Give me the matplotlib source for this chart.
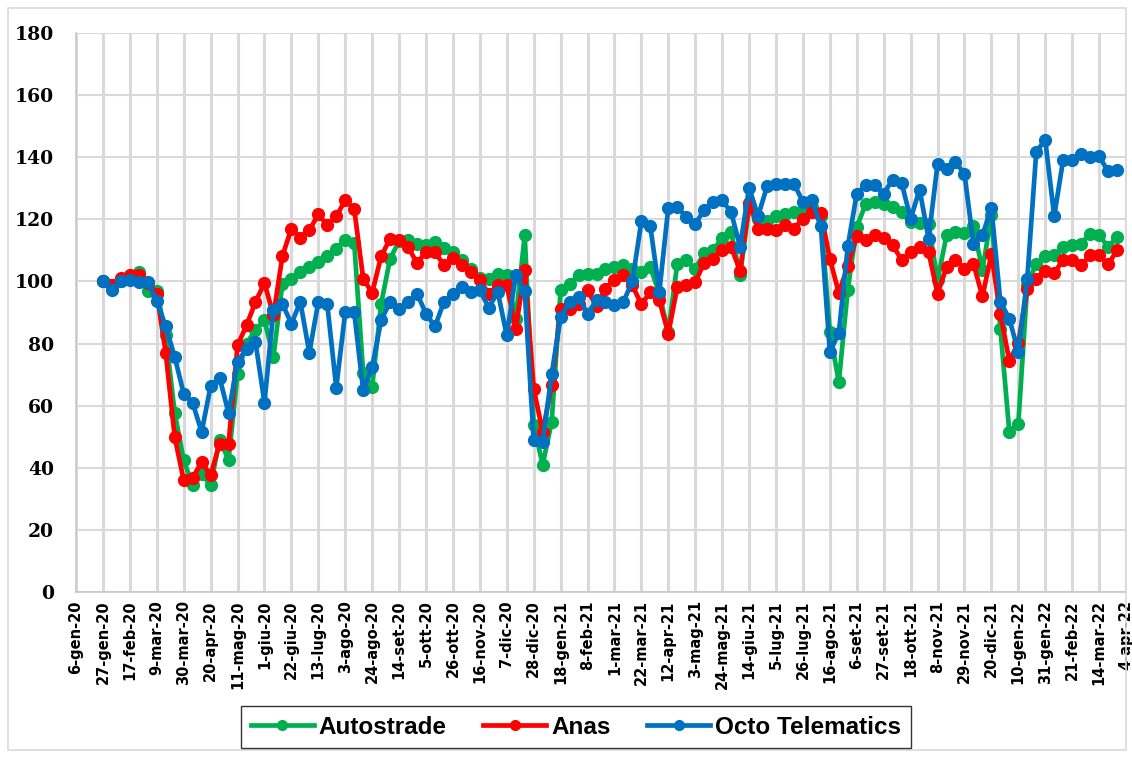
#!/usr/bin/env python3
import pandas as pd
import matplotlib.pyplot as plt
import matplotlib.dates as mdates
from matplotlib.patches import Rectangle

# weekly index values, first week 27-gen-20 = 100
autostrade = [100, 99, 100, 101.5, 103, 97, 97, 82.6, 57.6, 42.4,
              34.4, 38, 34.4, 49, 42.6, 70.3, 80, 84.3, 87.5, 75.7,
              99.3, 100.9, 103, 104.6, 106.2, 108.1, 110.6, 113.5, 112.4, 70.5,
              66, 92.8, 107.3, 113, 113.2, 111.9, 111.6, 112.7, 110.9, 109.5,
              106.8, 104, 101, 100.9, 102.5, 102, 88, 114.8, 53.7, 41,
              54.7, 97.1, 99.3, 102, 102.5, 102.5, 104.1, 104.6, 105.2, 104,
              103, 104.6, 96, 83.7, 105.7, 106.8, 104.1, 109.1, 110, 114.1,
              115.9, 102, 124, 120.2, 119.5, 121, 121.8, 122.3, 122.8, 124,
              121, 83.7, 67.6, 97.4, 117.5, 125, 125.6, 125, 124, 122.3,
              119.1, 118.8, 118.4, 100.4, 114.8, 116, 115.5, 117.7, 103.6, 121.3,
              84.8, 51.5, 54.2, 99, 105.7, 108.1, 108.6, 111.1, 111.6, 112.2,
              115.4, 115, 111.1, 114.3]

anas = [100, 99, 101, 102, 102, 99.5, 96.1, 77, 49.9, 36,
        36.8, 41.9, 37.6, 47.8, 47.8, 79.4, 85.9, 93.4, 99.5, 89.1,
        108.2, 117, 114.1, 116.5, 121.6, 118.1, 121, 126.1, 123.4, 100.9,
        96.3, 108.1, 113.8, 113.2, 111.1, 105.9, 109.5, 109.5, 105.2, 107.7,
        105.2, 103, 100.4, 96, 98.7, 98.7, 84.8, 103.6, 65.5, 51.5,
        66.5, 91.2, 91.2, 92.6, 97.1, 92, 97.7, 100.6, 102, 98.7,
        92.6, 96.6, 93.9, 83.2, 98.2, 98.7, 99.8, 105.9, 107.3, 110,
        111.1, 103.4, 125.2, 117, 117, 116.5, 118.1, 117, 120.2, 122.3,
        122, 107.3, 96.3, 104.9, 114.5, 113.2, 114.8, 114.1, 111.6, 107,
        109.5, 111.1, 109.5, 96.1, 104.6, 107, 104.1, 105.7, 95.2, 108.7,
        89.6, 74.4, 80.2, 97.7, 100.9, 103.4, 102.7, 107, 107, 105.2,
        108.4, 108.4, 105.5, 110]

octo = [100, 97.1, 100, 100.6, 99.8, 99.8, 93.7, 85.5, 75.7, 63.9,
        60.9, 51.5, 66.3, 69, 57.6, 74.1, 78.4, 80.5, 60.9, 90.7,
        92.8, 86.4, 93.4, 77, 93.4, 92.6, 65.8, 90.1, 90.1, 64.9,
        72.4, 87.5, 93.4, 91.2, 93.4, 96.1, 89.6, 85.5, 93.4, 96.1,
        98.2, 96.6, 97.1, 91.6, 96.6, 82.6, 102, 96.9, 48.8, 48.3,
        70.1, 88.5, 93.4, 95, 89.6, 93.9, 93.4, 92.5, 93.4, 100.1,
        119.4, 117.7, 96.6, 123.8, 124, 120.7, 118.4, 123.1, 125.6, 126.1,
        122.3, 111.1, 130.2, 121, 130.6, 131.5, 131.5, 131.5, 125.6, 126.3,
        117.7, 77.3, 83.4, 111.3, 128.3, 130.9, 130.9, 128.3, 132.8, 131.7,
        120.2, 129.6, 113.8, 137.7, 136.3, 138.4, 134.7, 112, 114.8, 123.8,
        93.4, 88, 77.3, 100.9, 141.7, 145.6, 121, 139.2, 139, 141.1,
        140, 140.3, 135.5, 135.8]

series_names = ["Autostrade", "Anas", "Octo Telematics"]
series_colors = ["#00B050", "#FF0000", "#0070C0"]
mesi = ["gen", "feb", "mar", "apr", "mag", "giu",
        "lug", "ago", "set", "ott", "nov", "dic"]
y_ticks = list(range(0, 181, 20))

dates = pd.date_range("2020-01-27", periods=len(octo), freq="7D")
tick_dates = pd.date_range("2020-01-06", "2022-04-04", freq="21D")
tick_labels = [f"{d.day}-{mesi[d.month - 1]}-{d.year % 100}" for d in tick_dates]

W, H = 1132, 758
fig = plt.figure(figsize=(W / 100, H / 100), dpi=100)
ax = fig.add_axes([76 / W, 1 - 592 / H, 1050 / W, 559 / H])

for vals, name, col in zip([autostrade, anas, octo], series_names, series_colors):
    ax.plot(dates, vals, color=col, lw=3.4, marker="o", ms=8.5,
            label=name, solid_joinstyle="round")

ax.set_ylim(0, 180)
ax.set_yticks(y_ticks, labels=[str(v) for v in y_ticks],
              fontfamily="DejaVu Serif", fontweight="bold", fontsize=13.5)
ax.set_xlim(mdates.date2num(tick_dates[0]), mdates.date2num(tick_dates[-1]))
ax.set_xticks(tick_dates, labels=tick_labels, rotation=90, fontsize=10.5,
              fontweight="bold", va="top", ha="center")
ax.tick_params(axis="both", length=0)
ax.tick_params(axis="y", pad=16)
ax.tick_params(axis="x", pad=6)

ax.grid(axis="x", color="#D9D9D9", lw=2.2)
ax.grid(axis="y", color="#D9D9D9", lw=1.5)
ax.set_axisbelow(True)
for s in ["top", "right"]:
    ax.spines[s].set_visible(False)
for s in ["left", "bottom"]:
    ax.spines[s].set_color("#C8C8C8")
    ax.spines[s].set_linewidth(1.2)

leg = fig.legend(loc="center", bbox_to_anchor=(576 / W, 1 - 727 / H), ncol=3,
                 frameon=True, fancybox=False, handlelength=2.6,
                 handletextpad=0.2, columnspacing=1.5, borderpad=0.4,
                 borderaxespad=0,
                 prop={"family": "Liberation Sans", "weight": "bold", "size": 17.5})
leg.get_frame().set_edgecolor("black")
leg.get_frame().set_linewidth(1.0)
for h in leg.get_lines():
    h.set_markersize(7)

fig.patches.append(Rectangle((8 / W, 8 / H), 1118 / W, 742 / H, transform=fig.transFigure,
                             fill=False, edgecolor="#D9D9D9", lw=1.2))

plt.savefig("out.png", dpi=100)
